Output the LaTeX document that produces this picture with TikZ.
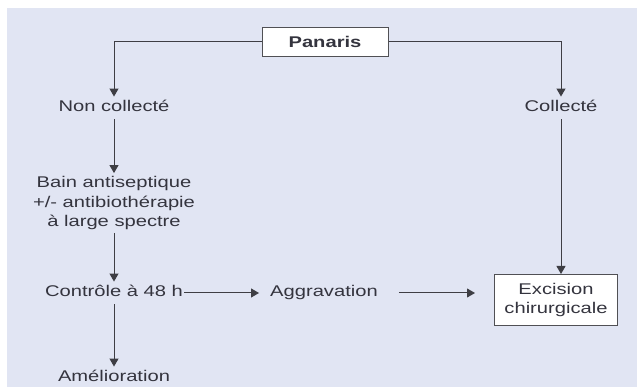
\documentclass[tikz,border=0pt]{standalone}
\usepackage{fontspec}
\setmainfont[FakeStretch=1.3]{Liberation Sans}
\usetikzlibrary{arrows.meta,calc}
\definecolor{bgpanel}{HTML}{E1E5F3}
\definecolor{linecol}{HTML}{3E3E44}
\definecolor{txtcol}{HTML}{34343E}
\definecolor{boxborder}{HTML}{505054}
\begin{document}
\begin{tikzpicture}[x=1pt,y=-1pt,
  base/.style={font=\fontsize{15.5}{19.5}\selectfont, text=txtcol, inner xsep=1pt, inner ysep=3pt, align=center},
  lbl/.style={base, text height=11pt, text depth=3.5pt, inner ysep=4pt},
  boxed/.style={base, draw=boxborder, line width=1pt, fill=white},
  arr/.style={draw=linecol, line width=1pt, -{Triangle[length=8pt,width=9pt]}},
]
\useasboundingbox (0,0) rectangle (637,387);
\fill[white] (0,0) rectangle (637,387);
\fill[bgpanel] (7,8) rectangle (637,387);

\node[boxed, minimum width=126pt, minimum height=29pt, font=\fontsize{15.5}{19.5}\selectfont\bfseries] (pan) at (325,42) {Panaris};
\node[lbl] (nc) at (114,108) {Non collecté};
\node[lbl] (col) at (561,108) {Collecté};
\node[base] (bain) at (114,203) {Bain antiseptique\\+/- antibiothérapie\\à large spectre};
\node[lbl] (ctrl) at (114,293) {Contrôle à 48 h};
\node[lbl] (amel) at (114,378) {Amélioration};
\node[lbl] (aggr) at (324,293) {Aggravation};
\node[boxed, minimum width=123pt, minimum height=51pt] (exc) at (556,300) {Excision\\chirurgicale};

\draw[arr] (pan.west) -| (nc.north);
\draw[arr] (pan.east) -| (col.north);
\draw[arr] (nc.south) -- (bain.north);
\draw[arr] (bain.south) -- (ctrl.north);
\draw[arr] (ctrl.south) -- (amel.north);
\draw[arr, shorten >=10pt] (ctrl.east) -- (aggr.west);
\draw[arr, shorten <=20pt, shorten >=19pt] (aggr.east) -- (aggr.east -| exc.west);
\draw[arr] (col.south) -- (col.south |- exc.north);
\end{tikzpicture}
\end{document}
